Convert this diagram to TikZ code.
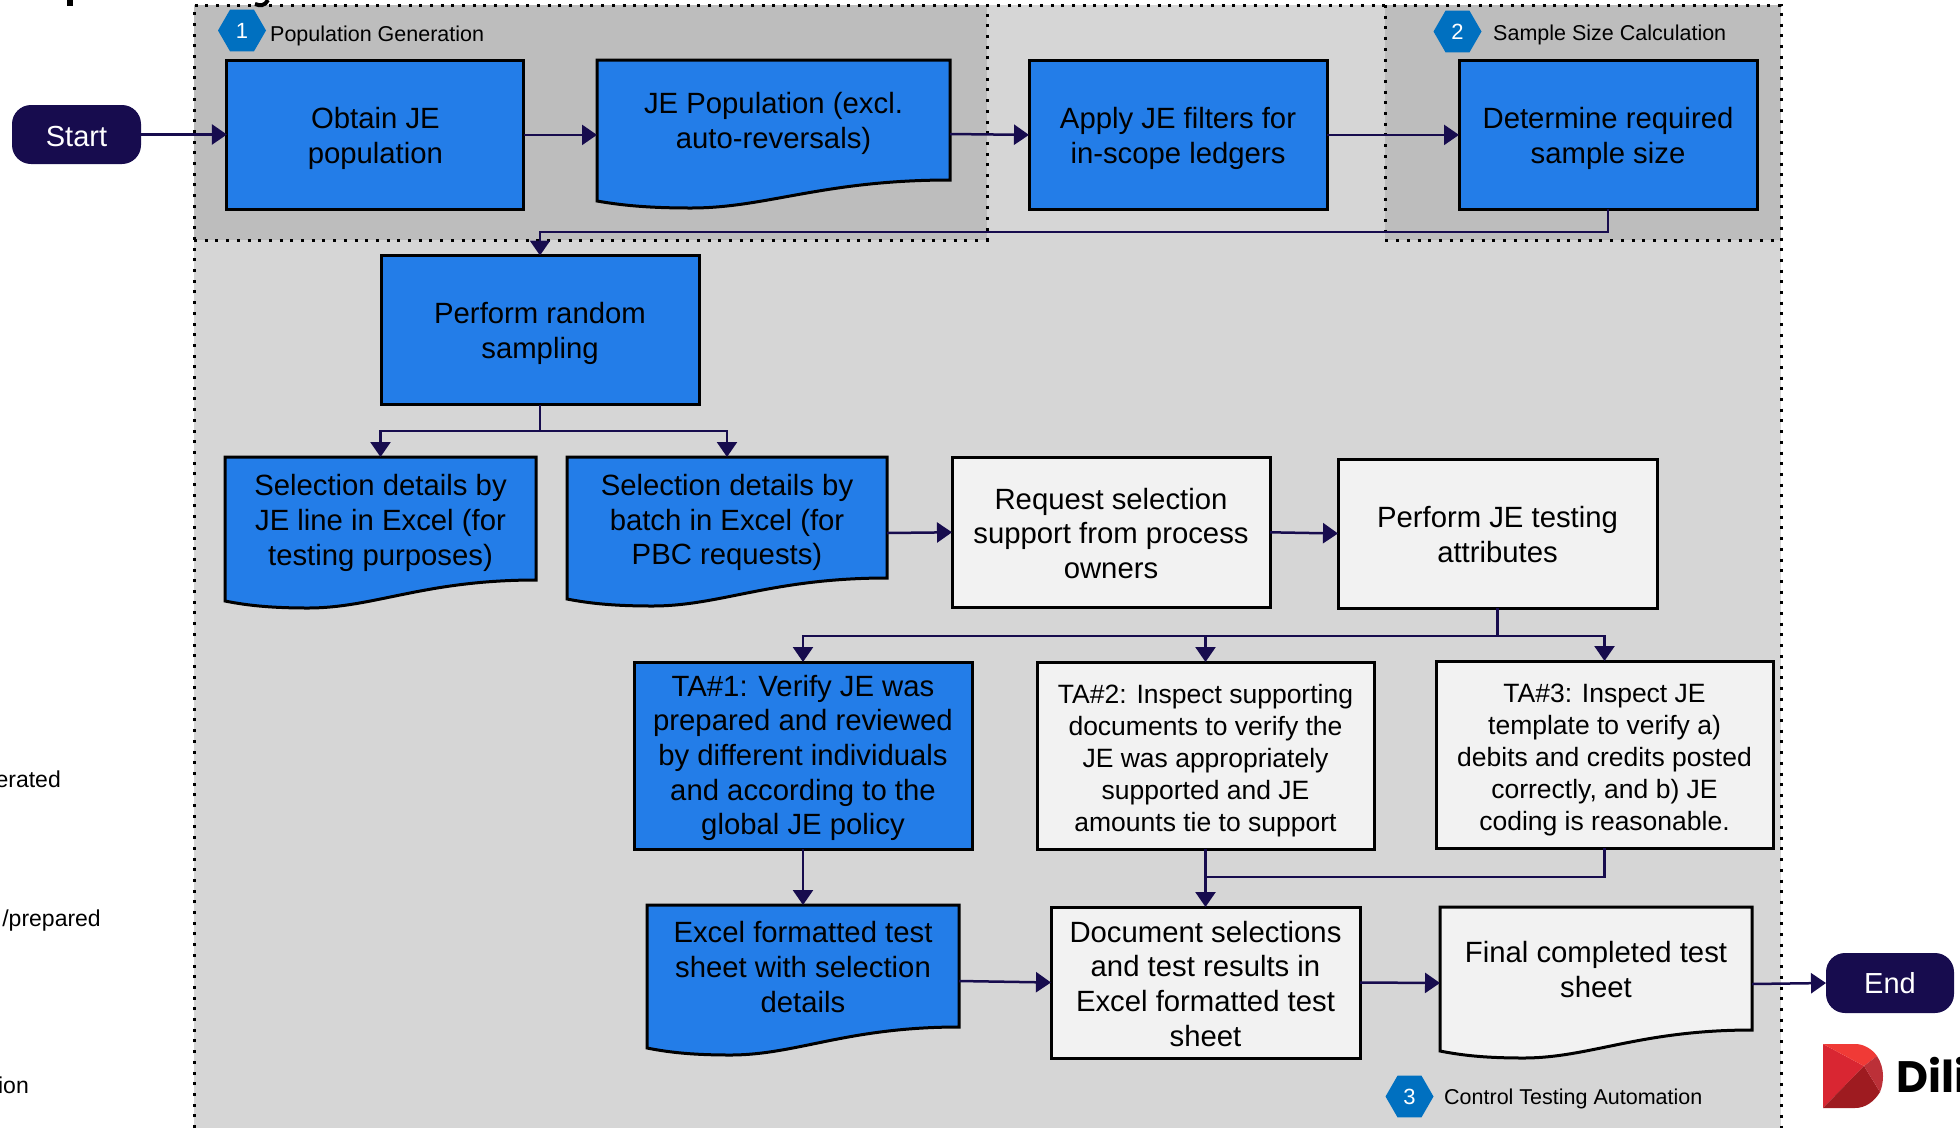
\documentclass[tikz,border=0pt]{standalone}
\usepackage{fontspec}
\setmainfont{Liberation Sans}
\newfontfamily\logofont{Poppins}
\usetikzlibrary{arrows.meta,shapes.geometric}
\definecolor{panel}{HTML}{D6D6D6}
\definecolor{panelb}{HTML}{BDBDBD}
\definecolor{boxblue}{HTML}{237DE8}
\definecolor{boxgrey}{HTML}{F2F2F2}
\definecolor{navy}{HTML}{170C4E}
\definecolor{hexblue}{HTML}{0070C0}
\definecolor{logoa}{RGB}{217,38,50}
\definecolor{logob}{RGB}{240,58,54}
\definecolor{logoc}{RGB}{158,27,32}
\definecolor{logod}{RGB}{188,48,56}
\newcommand{\dn}[1]{\rule{0pt}{\dimexpr 21pt+2\dimexpr #1\relax\relax}}
\tikzset{
  x=1pt,y=-1pt,
  basebox/.style={rectangle,inner sep=0pt,outer sep=0pt,align=center,text=black,font=\fontsize{29.3}{35}\selectfont},
  procblue/.style={basebox,draw=black,line width=3pt,fill=boxblue},
  procgrey/.style={basebox,draw=black,line width=3pt,fill=boxgrey},
  doctext/.style={basebox},
  docline/.style={draw=black,line width=3pt,line join=miter},
  tight/.style={font=\fontsize{29.3}{34.6}\selectfont},
  small/.style={font=\fontsize{26.5}{32}\selectfont},
  term/.style={rectangle,rounded corners=19pt,fill=navy,text=white,inner sep=0pt,outer sep=0pt,font=\fontsize{29}{35}\selectfont},
  conn/.style={draw=navy,line width=2.5pt,-{Triangle[length=15pt,width=20pt]}},
  plainconn/.style={draw=navy,line width=2.5pt},
  dots/.style={draw=black,line width=3pt,dash pattern=on 3pt off 7.7pt},
  hexa/.style={regular polygon,regular polygon sides=6,fill=hexblue,text=white,inner sep=0pt,outer sep=0pt,minimum size=48pt,font=\fontsize{22}{26}\selectfont},
  grouplabel/.style={anchor=west,inner sep=0pt,text=black,font=\fontsize{21.5}{26}\selectfont},
  sidetext/.style={anchor=east,inner sep=0pt,text=black,font=\fontsize{23}{27}\selectfont},
}
\newcommand{\docshape}[5]{% x1 y1 x2 yr colour
  \pgfmathsetmacro{\dw}{#3-#1}
  \pgfmathsetmacro{\dipx}{#1+0.267*\dw}
  \pgfmathsetmacro{\cxa}{#3-0.36*\dw}
  \pgfmathsetmacro{\cxb}{#1+0.48*\dw}
  \pgfmathsetmacro{\cxc}{#1+0.16*\dw}
  \pgfmathsetmacro{\cxd}{#1+0.08*\dw}
  \pgfmathsetmacro{\yd}{#4+28}
  \pgfmathsetmacro{\yl}{#4+21}
  \pgfmathsetmacro{\ym}{#4+26}
  \path[docline,fill=#5] (#1,#2) -- (#3,#2) -- (#3,#4)
    .. controls (\cxa,#4) and (\cxb,\yd) .. (\dipx,\yd)
    .. controls (\cxc,\yd) and (\cxd,\ym) .. (#1,\yl) -- cycle;
}
\begin{document}
\begin{tikzpicture}
\useasboundingbox (0,0) rectangle (1960,1128);
% panels
\fill[panel] (194,5) rectangle (1781,1128);
\fill[panelb] (194,5) rectangle (987,240);
\fill[panelb] (1385,5) rectangle (1781,240);
\draw[dots] (194,1128) -- (194,5) -- (1781,5) -- (1781,1128);
\draw[dots] (194,240) -- (987,240) -- (987,5);
\draw[dots] (1385,5) -- (1385,240) -- (1781,240);
% clipped title fragments
\fill[black] (67,0) rectangle (73,6);
\draw[black,line width=4pt] (268,0) .. controls (265,6) and (260,6) .. (255,4);
% clipped side texts
\node[sidetext] (sa) at (61,779) {erated};
\node[sidetext] (sb) at (101,921) {/prepared};
\node[sidetext] (sc) at (29,1085) {ion};
% group tags
\node[hexa] (h1) at (242,30.5) {1};
\node[grouplabel] (l1) at (270,36) {Population Generation};
\node[hexa] (h2) at (1457.5,31.5) {2};
\node[grouplabel] (l2) at (1493,35) {Sample Size Calculation};
\node[hexa] (h3) at (1409.5,1096.5) {3};
\node[grouplabel] (l3) at (1444,1099) {Control Testing Automation};
% terminators
\node[term,minimum width=129pt,minimum height=59pt] (start) at (76.5,134.5) {\dn{1.25pt}Start};
\node[term,minimum width=128pt,minimum height=60pt] (end) at (1890,983) {End};
% document outlines
\docshape{597}{60}{950}{180}{boxblue}
\docshape{225}{457}{536}{580}{boxblue}
\docshape{567}{457}{887}{578}{boxblue}
\docshape{647}{905}{959}{1027}{boxblue}
\docshape{1440}{907}{1752}{1030}{boxgrey}
% document text nodes
\node[doctext,minimum width=353pt,minimum height=127pt] (jepop) at (773.5,123.5) {JE Population (excl.\\auto-reversals)};
\node[doctext,tight,minimum width=311pt,minimum height=132pt] (sel1) at (380.5,523) {Selection details by\\JE line in Excel (for\\testing purposes)};
\node[doctext,tight,minimum width=320pt,minimum height=131pt] (sel2) at (727,522.5) {Selection details by\\batch in Excel (for\\PBC requests)};
\node[doctext,tight,minimum width=312pt,minimum height=124pt] (excel) at (803,967) {Excel formatted test\\sheet with selection\\details};
\node[doctext,minimum width=312pt,minimum height=126pt] (final) at (1596,970) {Final completed test\\sheet};
% process boxes
\node[procblue,minimum width=297pt,minimum height=149pt] (obtain) at (375.4,134.9) {\dn{3.75pt}Obtain JE\\population};
\node[procblue,minimum width=298pt,minimum height=149pt] (apply) at (1178,134.9) {\dn{3.75pt}Apply JE filters for\\in-scope ledgers};
\node[procblue,minimum width=298pt,minimum height=149pt] (size) at (1608,134.9) {\dn{3.75pt}Determine required\\sample size};
\node[procblue,minimum width=318pt,minimum height=149pt] (random) at (540,330) {\dn{3.75pt}Perform random\\sampling};
\node[procgrey,tight,minimum width=318pt,minimum height=150pt] (request) at (1111,532.3) {\dn{1.25pt}Request selection\\support from process\\owners};
\node[procgrey,minimum width=319pt,minimum height=149pt] (attrs) at (1497.5,533.5) {\dn{1.25pt}Perform JE testing\\attributes};
\node[procblue,tight,minimum width=338pt,minimum height=187pt] (ta1) at (803,755.5) {\dn{2.5pt}TA\#1: Verify JE was\\prepared and reviewed\\by different individuals\\and according to the\\global JE policy};
\node[procgrey,small,minimum width=337pt,minimum height=187pt] (ta2) at (1205.5,755.5) {\dn{3.75pt}TA\#2: Inspect supporting\\documents to verify the\\JE was appropriately\\supported and JE\\amounts tie to support};
\node[procgrey,small,minimum width=337pt,minimum height=187pt] (ta3) at (1604.5,754.5) {\dn{3.75pt}TA\#3: Inspect JE\\template to verify a)\\debits and credits posted\\correctly, and b) JE\\coding is reasonable.};
\node[procgrey,tight,minimum width=309pt,minimum height=151pt] (docres) at (1205.5,982.5) {\dn{1.25pt}Document selections\\and test results in\\Excel formatted test\\sheet};
% connector bend points
\coordinate (b1) at (0,232);
\coordinate (b2) at (0,431);
\coordinate (b3) at (0,636);
\coordinate (b4) at (0,877);
% connectors
\draw[conn] (start.east) -- (start.east -| obtain.west);
\draw[conn] (obtain.east) -- (obtain.east -| jepop.west);
\draw[conn] ([yshift=-10.5pt]jepop.east) -- (apply.west);
\draw[conn] (apply.east) -- (size.west);
\draw[conn] (size.south) -- (size.south |- b1) -- (random.north |- b1) -- (random.north);
\draw[conn] (random.south) -- (random.south |- b2) -- (sel1.north |- b2) -- (sel1.north);
\draw[conn] (random.south |- b2) -- (sel2.north |- b2) -- (sel2.north);
\draw[conn] ([yshift=-10.5pt]sel2.east) -- (request.west);
\draw[conn] (request.east) -- (attrs.west);
\draw[conn] (attrs.south) -- (attrs.south |- b3) -- (ta1.north |- b3) -- (ta1.north);
\draw[conn] (ta2.north |- b3) -- (ta2.north);
\draw[conn] (attrs.south |- b3) -- (ta3.north |- b3) -- (ta3.north);
\draw[conn] (ta1.south) -- (excel.north);
\draw[conn] (ta2.south) -- (docres.north);
\draw[plainconn] (ta3.south) -- (ta3.south |- b4) -- (ta2.south |- b4);
\draw[conn] ([yshift=-14pt]excel.east) -- (docres.west);
\draw[conn] (docres.east) -- ([yshift=-13pt]final.west);
\draw[conn] ([yshift=-14pt]final.east) -- (end.west);
% logo
\fill[logoa] (1823,1044) -- (1864,1066) -- (1823,1108) -- cycle;
\fill[logob] (1823,1044) -- (1855,1044) .. controls (1864,1044) and (1872,1049) .. (1877,1056) -- (1864,1066) -- cycle;
\fill[logoc] (1823,1108) -- (1864,1066) -- (1880,1092) .. controls (1874,1102) and (1865,1108) .. (1855,1108) -- cycle;
\fill[logod] (1864,1066) -- (1877,1056) .. controls (1881,1062) and (1883,1069) .. (1883,1076) .. controls (1883,1082) and (1882,1087) .. (1880,1092) -- cycle;
\node[anchor=base west,inner sep=0pt,text=black,font=\logofont\bfseries\fontsize{44}{50}\selectfont] (logo) at (1896,1092) {Dili};
\end{tikzpicture}
\end{document}
